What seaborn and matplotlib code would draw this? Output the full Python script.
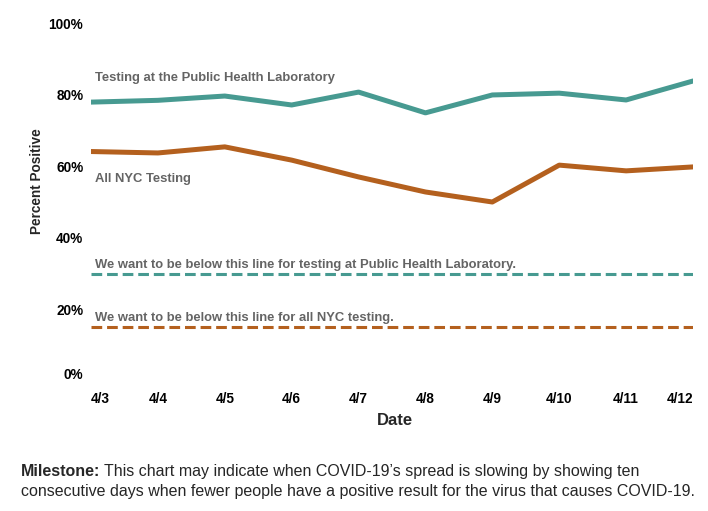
import matplotlib
matplotlib.use("Agg")
import matplotlib.pyplot as plt
import matplotlib.transforms as mtransforms
import seaborn as sns
import pandas as pd

dates = ["4/3", "4/4", "4/5", "4/6", "4/7", "4/8", "4/9", "4/10", "4/11", "4/12"]
phl_values = [77.9, 78.4, 79.6, 77.1, 80.7, 74.9, 79.9, 80.4, 78.5, 83.8]
nyc_values = [64.1, 63.7, 65.4, 61.7, 57.0, 52.8, 50.0, 60.3, 58.7, 59.8]
phl_target = 30
nyc_target = 15
y_ticks = [0, 20, 40, 60, 80, 100]

TEAL = "#479A91"
ORANGE = "#B4601E"
GRAY = "#646464"

sns.set_theme(style="white")
plt.rcParams["font.family"] = ["Liberation Sans", "DejaVu Sans"]

df = pd.DataFrame({
    "idx": list(range(len(dates))) * 2,
    "value": phl_values + nyc_values,
    "series": ["PHL"] * len(dates) + ["NYC"] * len(dates),
})

fig = plt.figure(figsize=(7.08, 5.11), dpi=100)
ax = fig.add_axes([91 / 708, 130 / 511, 602 / 708, 358 / 511])

sns.lineplot(data=df, x="idx", y="value", hue="series",
             palette={"PHL": TEAL, "NYC": ORANGE}, linewidth=3.6,
             legend=False, ax=ax)

n = len(dates)
ax.plot([0, n - 1], [phl_target, phl_target], color=TEAL, lw=2.2, dashes=(3.5, 1.6))
ax.plot([0, n - 1], [nyc_target, nyc_target], color=ORANGE, lw=2.2, dashes=(3.5, 1.6))

ax.set_xlim(0, n - 1)
ax.set_ylim(0, 100)
for s in ax.spines.values():
    s.set_visible(False)
ax.grid(False)

ax.set_yticks(y_ticks)
ax.set_yticklabels([f"{v}%" for v in y_ticks], fontweight="bold", fontsize=9.8, color="black")
ax.set_xticks(range(n))
ax.set_xticklabels(dates, fontweight="bold", fontsize=9.8, color="black")
ax.tick_params(axis="y", length=0, pad=5.5)
ax.tick_params(axis="x", length=0, pad=8)
xl = ax.get_xticklabels()
xl[0].set_ha("left")
xl[-1].set_ha("right")
yl = ax.get_yticklabels()
yl[0].set_transform(yl[0].get_transform() + mtransforms.ScaledTranslation(0, 8 / 100, fig.dpi_scale_trans))

ax.set_xlabel("Date", fontweight="bold", fontsize=12, va="center")
ax.xaxis.set_label_coords((395 - 91) / 602, (381 - 420) / 358)
ax.set_ylabel("Percent Positive", fontweight="bold", fontsize=9.8, va="center")
ax.yaxis.set_label_coords((37 - 91) / 602, (381 - 181) / 358)

lab_fs = 9.4
ax.text(0.06, 84.5, "Testing at the Public Health Laboratory", color=GRAY,
        fontweight="bold", fontsize=lab_fs, va="center")
ax.text(0.06, 56.5, "All NYC Testing", color=GRAY, fontweight="bold", fontsize=lab_fs, va="center")
ax.text(0.06, 32.5, "We want to be below this line for testing at Public Health Laboratory.",
        color=GRAY, fontweight="bold", fontsize=lab_fs, va="center")
ax.text(0.06, 17.5, "We want to be below this line for all NYC testing.",
        color=GRAY, fontweight="bold", fontsize=lab_fs, va="center")

ms_fs = 11.5
t1 = fig.text(21 / 708, 1 - 471 / 511, "Milestone:", fontweight="bold", fontsize=ms_fs,
              va="center", ha="left")
fig.canvas.draw()
bb = t1.get_window_extent()
x2 = (bb.x1 + 4) / fig.bbox.width
fig.text(x2, 1 - 471 / 511, "This chart may indicate when COVID-19\u2019s spread is slowing by showing ten",
         fontsize=ms_fs, va="center", ha="left")
fig.text(21 / 708, 1 - 491 / 511,
         "consecutive days when fewer people have a positive result for the virus that causes COVID-19.",
         fontsize=ms_fs, va="center", ha="left")

fig.savefig("out.png", dpi=100)
